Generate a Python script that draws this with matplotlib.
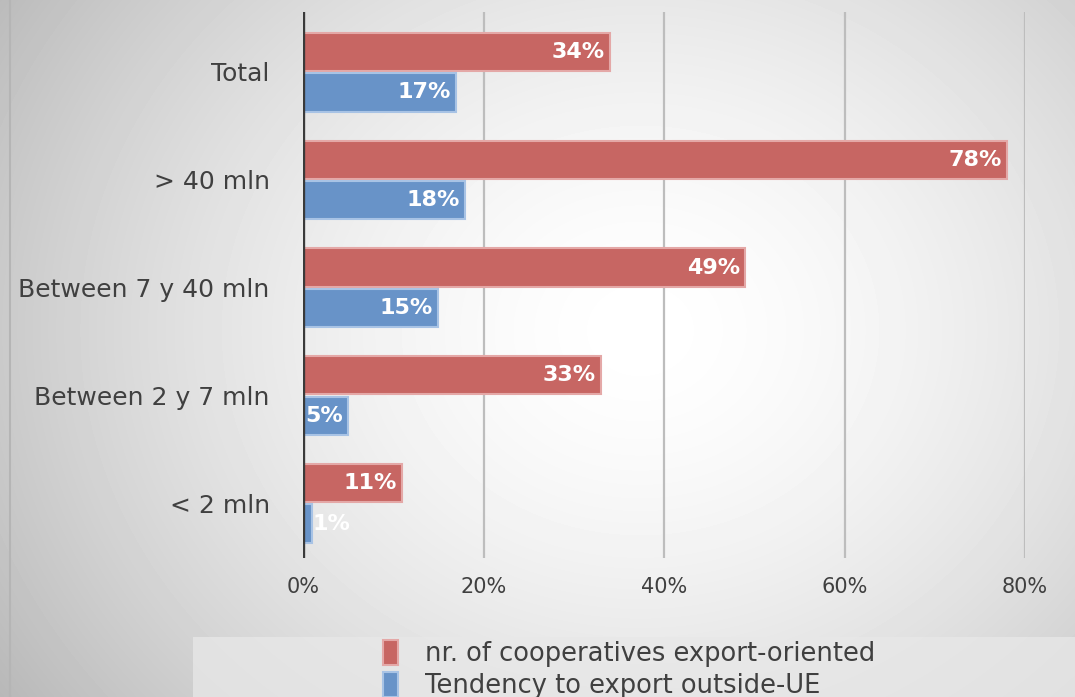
import numpy as np
import matplotlib.pyplot as plt
from matplotlib.patches import Rectangle

# data
categories = ["Total", "> 40 mln", "Between 7 y 40 mln", "Between 2 y 7 mln", "< 2 mln"]
export_oriented = [34, 78, 49, 33, 11]
outside_ue = [17, 18, 15, 5, 1]
series_names = ["nr. of cooperatives export-oriented", "Tendency to export outside-UE"]
xticks = [0, 20, 40, 60, 80]

red = "#C76663"
red_edge = "#E4A8A7"
blue = "#6893C8"
blue_edge = "#A8C3E5"
txt = "#404040"

W, H = 1075, 697
fig = plt.figure(figsize=(W / 100, H / 100), dpi=100)

# radial grey background
bg = fig.add_axes([0, 0, 1, 1], zorder=-10)
yy, xx = np.mgrid[0:H, 0:W]
r = np.sqrt(((xx - 640) / 700.0) ** 2 + ((yy - 330) / 600.0) ** 2)
shade = 1.0 - 0.24 * np.clip(r, 0, 1.2) ** 1.6
bg.imshow(shade, cmap="gray", vmin=0, vmax=1, extent=[0, W, H, 0], aspect="auto")
bg.add_patch(Rectangle((193, 637), W - 193, H - 637, color="#E8E8E8", alpha=0.75, lw=0))
bg.plot([10, 10], [0, H], color="#B5B5B5", lw=1.5)
bg.set_xlim(0, W)
bg.set_ylim(H, 0)
bg.axis("off")

ax = fig.add_axes([303 / W, 1 - 558 / H, 722 / W, 546 / H])
ax.patch.set_alpha(0)
y = np.arange(len(categories))
h = 0.355
ax.barh(y - 0.185, export_oriented, height=h, color=red, edgecolor=red_edge, linewidth=1.5, zorder=3)
ax.barh(y + 0.19, outside_ue, height=h, color=blue, edgecolor=blue_edge, linewidth=1.5, zorder=3)

for i in range(len(categories)):
    for vals, off in ((export_oriented, -0.185), (outside_ue, 0.19)):
        v = vals[i]
        if v < 3:
            ax.text(v + 0.1, i + off, f"{v}%", ha="left", va="center", color="white",
                    fontsize=16, fontweight="bold", zorder=4)
        else:
            ax.text(v - 0.6, i + off, f"{v}%", ha="right", va="center", color="white",
                    fontsize=16, fontweight="bold", zorder=4)

ax.set_xlim(0, 80)
ax.set_ylim(4.51, -0.556)
ax.set_xticks(xticks)
ax.set_xticklabels([f"{t}%" for t in xticks], fontsize=15, color=txt)
ax.set_yticks(y)
ax.set_yticklabels(categories, fontsize=18, color=txt)
ax.tick_params(axis="both", length=0)
ax.tick_params(axis="y", pad=24)
ax.tick_params(axis="x", pad=14)
for t in xticks[1:]:
    ax.axvline(t, color="#BDBDBD", lw=1.6, zorder=1)
ax.axvline(0, color="#3A3A3A", lw=2.4, zorder=5)
for s in ax.spines.values():
    s.set_visible(False)

handles = [Rectangle((0, 0), 1, 1, facecolor=red, edgecolor=red_edge, lw=1.5),
           Rectangle((0, 0), 1, 1, facecolor=blue, edgecolor=blue_edge, lw=1.5)]
fig.legend(handles, series_names, loc="upper left", bbox_to_anchor=(370 / W, 1 - 627 / H),
           frameon=False, fontsize=18.5, labelcolor=txt, handlelength=0.6, handleheight=1.1,
           handletextpad=1.05, labelspacing=0.2, borderpad=0)

fig.savefig("out.png", dpi=100)
